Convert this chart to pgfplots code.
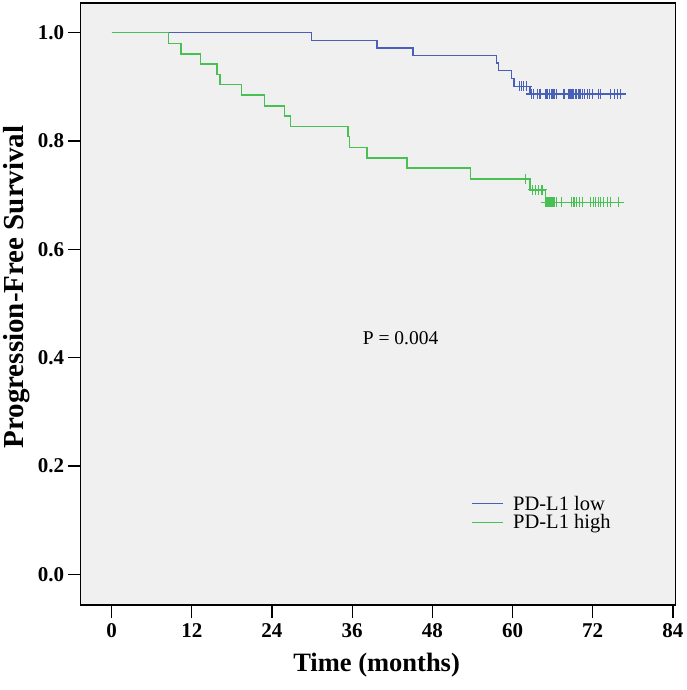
\documentclass[border=0pt]{standalone}
\usepackage{fontspec}
\setmainfont{Liberation Serif}
\usepackage{pgfplots}
\pgfplotsset{compat=1.18}
\definecolor{kmblue}{RGB}{72,96,184}
\definecolor{kmgreen}{RGB}{72,192,84}
\definecolor{bgc}{RGB}{240,240,240}
\begin{document}
\begin{tikzpicture}
\begin{axis}[
  at={(0,0)}, anchor=south west, scale only axis,
  width=595pt, height=602pt,
  xmin=-4.64, xmax=84.4, ymin=-0.0565, ymax=1.055,
  xtick={0,12,24,36,48,60,72,84},
  ytick={0,0.2,0.4,0.6,0.8,1.0},
  xtick pos=left, ytick pos=left,
  tick align=outside, major tick length=13pt,
  tick style={line width=1.3pt, black},
  axis line style={line width=1.2pt, black},
  axis background/.style={fill=bgc},
  /pgf/number format/assume math mode=true,
  ticklabel style={font=\fontsize{21}{24}\selectfont\bfseries},
  yticklabel style={/pgf/number format/.cd, fixed, fixed zerofill, precision=1},
  xticklabel style={yshift=-2pt},
  legend style={at={(0.657,0.184)}, anchor=north west, draw=none, fill=none,
    font=\fontsize{20.5}{23}\selectfont, inner sep=0pt, row sep=0pt,
    nodes={inner sep=1.5pt},
    /tikz/every odd column/.append style={column sep=8pt}},
  legend cell align=left,
  legend image code/.code={\draw[#1, line width=1pt] (0pt,0pt) -- (31pt,0pt);},
  clip=false,
]
% PD-L1 low
\addplot[kmblue, line width=1.4pt, const plot mark left] coordinates {
(0,1) (29.9,0.986) (39.7,0.972) (45.1,0.958) (57.6,0.944) (57.9,0.930)
(59.8,0.916) (60.2,0.901) (62.6,0.887) (76.2,0.887)};
\addlegendentry{PD-L1 low}
% PD-L1 high
\addplot[kmgreen, line width=1.4pt, const plot mark left] coordinates {
(0,1) (8.5,0.980) (10.4,0.961) (13.3,0.942) (15.8,0.923) (16.2,0.904)
(19.4,0.885) (22.9,0.865) (25.9,0.846) (26.8,0.827) (35.4,0.808)
(35.6,0.788) (38.2,0.769) (44.2,0.750) (53.7,0.730) (62.6,0.710)
(64.9,0.687) (76.0,0.687)};
\addlegendentry{PD-L1 high}
% censored marks, low
\addplot[kmblue, only marks, mark=+, mark size=5pt, line width=1.1pt, forget plot] coordinates {
(61.0,0.901) (61.3,0.901) (61.7,0.901) (62.1,0.901)
(62.8,0.887) (63.2,0.887) (63.7,0.887) (64.1,0.887) (65.0,0.887)
(65.2,0.887) (65.5,0.887) (65.9,0.887) (66.2,0.887) (66.6,0.887)
(67.7,0.887) (68.4,0.887) (68.6,0.887) (68.9,0.887) (69.1,0.887)
(69.4,0.887) (69.6,0.887) (69.9,0.887) (70.1,0.887) (70.4,0.887)
(70.7,0.887) (71.2,0.887) (71.5,0.887) (72.0,0.887) (72.9,0.887)
(73.2,0.887) (74.7,0.887) (75.2,0.887) (75.7,0.887) (76.2,0.887)};
% censored marks, high
\addplot[kmgreen, only marks, mark=+, mark size=5pt, line width=1.1pt, forget plot] coordinates {
(61.9,0.730)
(63.0,0.710) (63.4,0.710) (63.9,0.710) (64.4,0.710)
(65.0,0.687) (65.3,0.687) (65.6,0.687) (65.9,0.687) (66.2,0.687)
(66.6,0.687) (67.3,0.687) (68.8,0.687) (69.2,0.687) (69.6,0.687)
(70.0,0.687) (70.5,0.687) (71.7,0.687) (72.1,0.687) (72.4,0.687)
(72.8,0.687) (73.2,0.687) (73.6,0.687) (74.2,0.687) (74.7,0.687)
(75.9,0.687)};
\end{axis}
\node[font=\fontsize{26.5}{30}\selectfont\bfseries] at (296pt,-60pt) {Time (months)};
\node[rotate=90, font=\fontsize{29}{32}\selectfont\bfseries] at (-64pt,318pt) {Progression-Free Survival};
\node[font=\fontsize{19.5}{22}\selectfont] at (320pt,267pt) {P = 0.004};
\path[use as bounding box] (-80pt,-85pt) rectangle (605pt,605pt);
\end{tikzpicture}
\end{document}
